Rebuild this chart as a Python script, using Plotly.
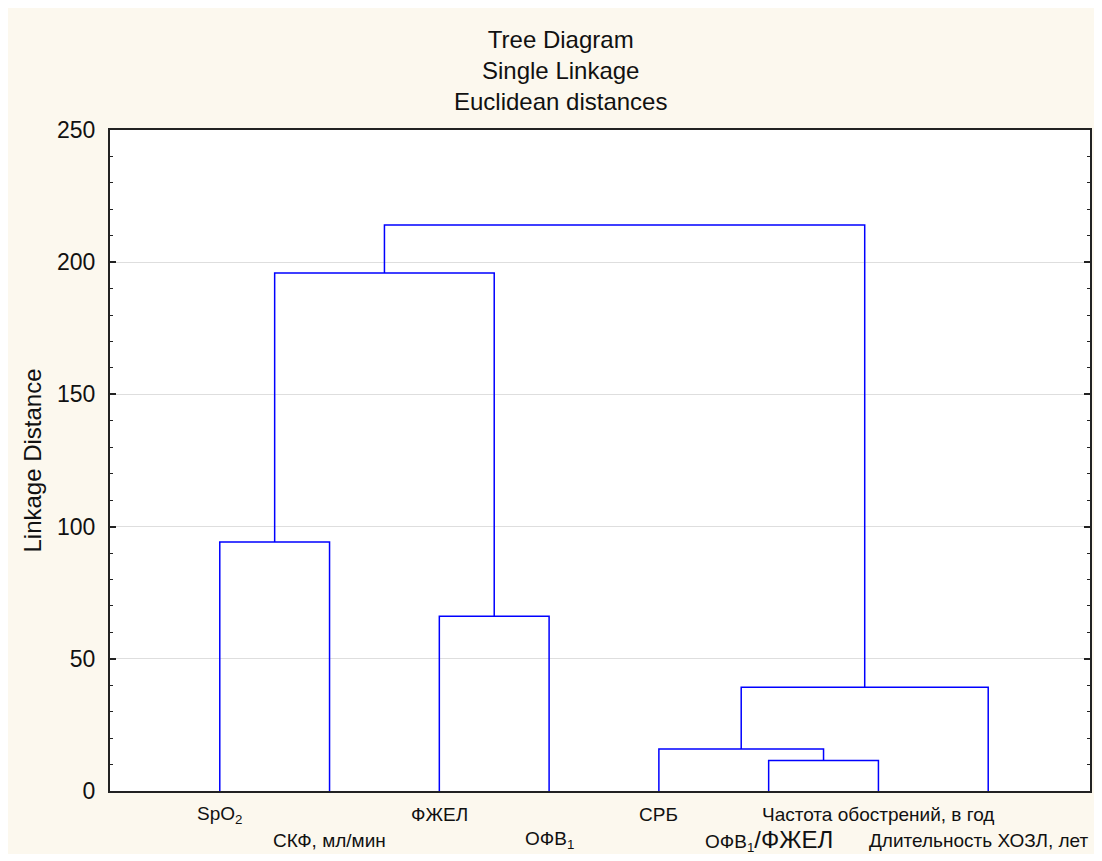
import plotly.graph_objects as go

# ---- data ----
leaf_labels = [
    "SpO<sub>2</sub>",
    "СКФ, мл/мин",
    "ФЖЕЛ",
    "ОФВ<sub>1</sub>",
    "СРБ",
    "ОФВ<sub>1</sub><span style=\"font-size:24px\">/ФЖЕЛ</span>",
    "Частота обострений, в год",
    "Длительность ХОЗЛ, лет",
]
# merges (scipy-like): child ids (0..7 leaves, 8.. clusters), linkage distance
merge_left = [0, 2, 5, 4, 11, 8, 13]
merge_right = [1, 3, 6, 10, 7, 9, 12]
merge_height = [94.2, 66.1, 11.5, 15.9, 39.2, 195.9, 214.1]

y_ticks = [0, 50, 100, 150, 200, 250]

# ---- build dendrogram segments from data ----
n = len(leaf_labels)
xpos = {i: i + 1 for i in range(n)}
ypos = {i: 0.0 for i in range(n)}
xs, ys = [], []
for k, (a, b, h) in enumerate(zip(merge_left, merge_right, merge_height)):
    xa, xb = xpos[a], xpos[b]
    xs += [xa, xa, xb, xb, None]
    ys += [ypos[a], h, h, ypos[b], None]
    cid = n + k
    xpos[cid] = (xa + xb) / 2
    ypos[cid] = h

fig = go.Figure()
fig.add_trace(go.Scatter(x=xs, y=ys, mode="lines",
                         line=dict(color="#0000FF", width=1.5),
                         hoverinfo="skip", showlegend=False))

FONT = "Liberation Sans, Arial, sans-serif"

# figure geometry (px, figure coordinates)
W, H = 1086, 846
L, R, T, B = 102, 2, 122, 63
pw, ph = W - L - R, H - T - B
leaf_step_px = 110.0
x_max = pw / leaf_step_px

def px_x(x):
    return (x - L) / pw

def px_y(y):
    return (H - B - y) / ph

# leaf labels, alternating rows
for i, lab in enumerate(leaf_labels):
    row_y = 807 if i % 2 == 0 else 832
    if i == n - 1:
        # keep the last (long) label inside the figure's right edge
        fig.add_annotation(x=px_x(W - 1), xref="paper", y=px_y(row_y), yref="paper",
                           text=lab, showarrow=False, xanchor="right", yanchor="middle",
                           font=dict(family=FONT, size=19, color="#111"))
    else:
        fig.add_annotation(x=i + 1, xref="x", y=px_y(row_y), yref="paper",
                           text=lab, showarrow=False, xanchor="center", yanchor="middle",
                           font=dict(family=FONT, size=19, color="#111"))

# title
fig.add_annotation(x=px_x(553), xref="paper", y=px_y(62), yref="paper",
                   text="Tree Diagram<br>Single Linkage<br>Euclidean distances",
                   showarrow=False, xanchor="center", yanchor="middle",
                   font=dict(family=FONT, size=24, color="#111"))

fig.update_layout(
    width=W, height=H,
    margin=dict(l=L, r=R, t=T, b=B),
    paper_bgcolor="#FCF8EE", plot_bgcolor="white",
    font=dict(family=FONT, color="#111"),
    showlegend=False,
)
fig.update_xaxes(range=[0, x_max], showticklabels=False, ticks="",
                 showgrid=False, zeroline=False,
                 showline=True, linecolor="#222", linewidth=2, mirror=True)
fig.update_yaxes(range=[0, 250], tickvals=y_ticks, ticks="inside", ticklen=6,
                 tickwidth=1.5, tickcolor="#222", ticklabelstandoff=8,
                 minor=dict(dtick=10, ticks="inside", ticklen=3, tickwidth=1.2,
                            tickcolor="#222", showgrid=False),
                 showgrid=True, gridcolor="#DEDEDE", gridwidth=1,
                 zeroline=False, showline=True, linecolor="#222", linewidth=2,
                 mirror="ticks",
                 tickfont=dict(family=FONT, size=23, color="#111"),
                 title=dict(text="Linkage Distance", standoff=9,
                            font=dict(family=FONT, size=24, color="#111")))

fig.write_html("out.html")
